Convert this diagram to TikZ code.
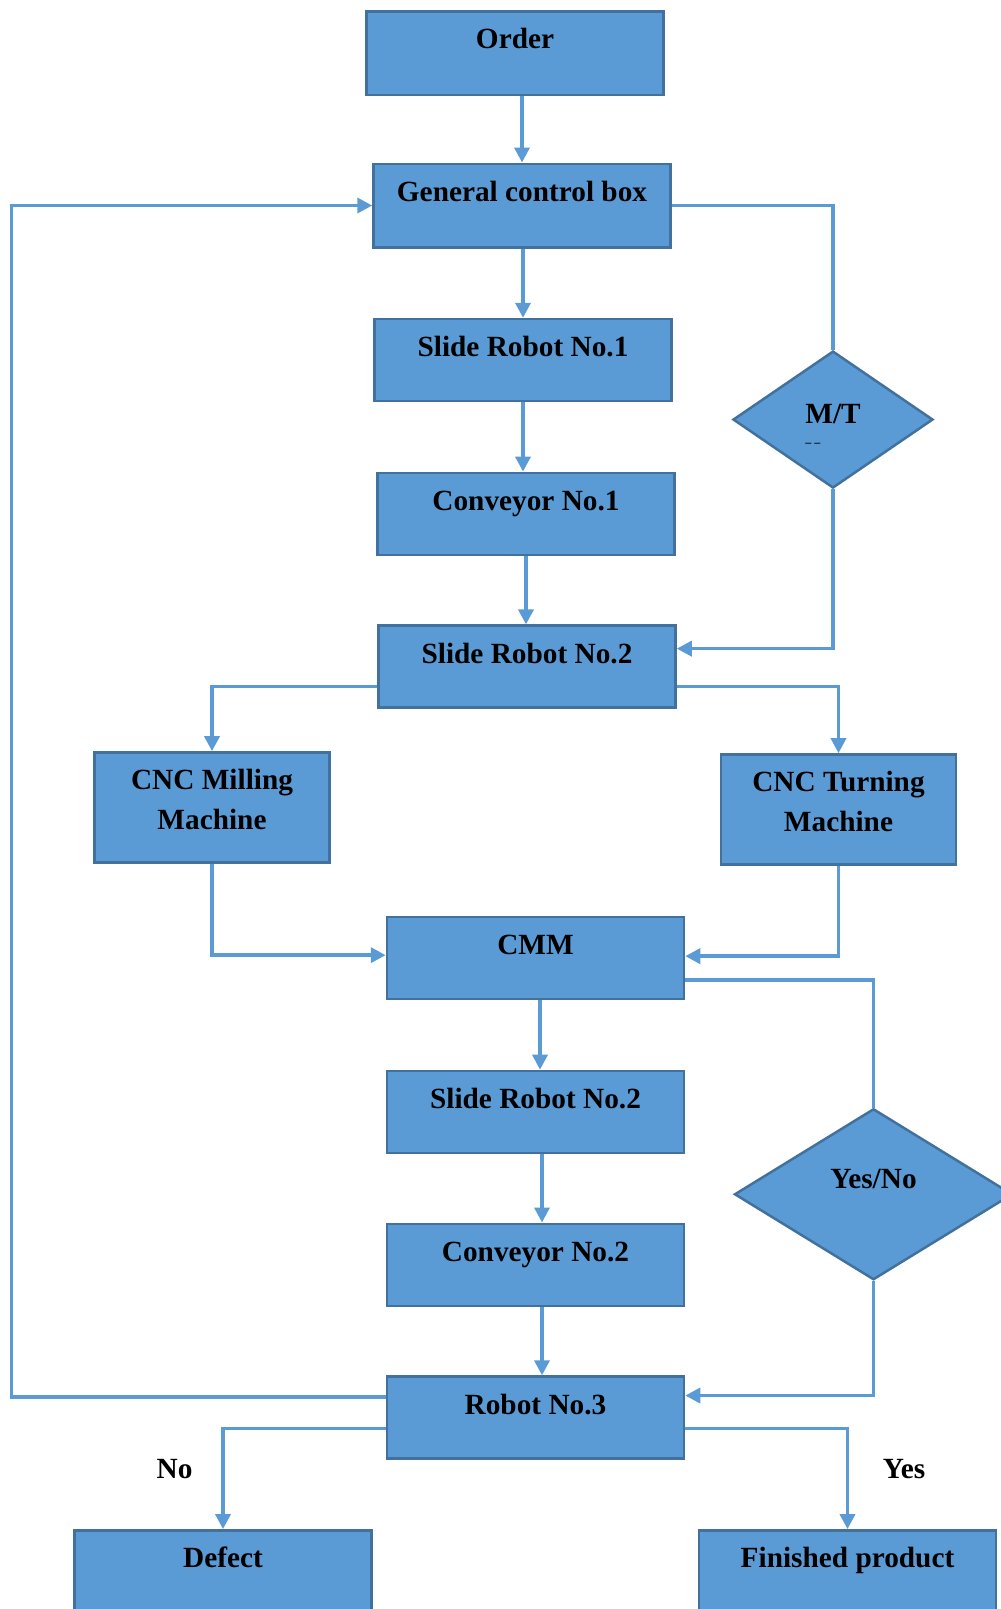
\documentclass[tikz,border=0pt]{standalone}
\usepackage{fontspec}
\setmainfont{Liberation Serif}
\usetikzlibrary{arrows.meta,positioning,shapes.geometric}
\definecolor{boxfill}{HTML}{5B9BD5}
\definecolor{boxline}{HTML}{41719C}
\tikzset{
    block/.style={rectangle,draw=boxline,fill=boxfill,line width=2.5pt,minimum width=297pt,inner sep=0pt,text height=37.5pt,text depth=44.5pt,font=\fontsize{29.3}{40}\selectfont\bfseries},
    tall/.style={text depth=46pt},
    machine/.style={block,minimum width=235pt,text depth=72.5pt},
    decision/.style={diamond,draw=boxline,fill=boxfill,line width=2.5pt,inner sep=0pt,font=\fontsize{29.3}{40}\selectfont\bfseries},
    answer/.style={anchor=base,font=\fontsize{29.3}{40}\selectfont\bfseries},
    pre/.style={-{Triangle[length=15pt,width=15pt]},line width=3.5pt,draw=boxfill},
    bi/.style={-,line width=3.5pt,draw=boxfill}
}

\begin{document}
\begin{tikzpicture}

                \useasboundingbox (0,0) rectangle (1001pt,-1609pt);
                \clip (0,0) rectangle (1001pt,-1609pt);

                \node[block,tall] (order)        at (515pt,-53pt)                            {Order};
                \node[block,tall] (control box)  [below=66.5pt of order, xshift=7pt]         {General control box};
                \node[block]      (slide one)    [below=69.3pt of control box, xshift=1pt]   {Slide Robot No.1};
                \node[block]      (conveyor one) [below=69.3pt of slide one, xshift=3pt]     {Conveyor No.1};
                \node[block]      (slide two)    [below=68.3pt of conveyor one, xshift=1pt]  {Slide Robot No.2};

                \node[decision, minimum width=200pt, minimum height=137pt, text height=20pt, text depth=13pt]
                                  (mt check)     [right=59pt of slide one, yshift=-59.5pt]
                                  {\begin{tabular}[t]{@{}l@{}}M/T\\[-16.5pt]{\fontsize{12}{12}\selectfont --~--}\end{tabular}};

                \node[machine]    (cnc mill)     [below=42.3pt of slide two, xshift=-315pt]
                                  {\begin{tabular}[t]{@{}c@{}}CNC Milling\\Machine\end{tabular}};
                \node[machine]    (cnc turn)     [below=44.3pt of slide two, xshift=311.5pt]
                                  {\begin{tabular}[t]{@{}c@{}}CNC Turning\\Machine\end{tabular}};

                \node[block]      (cmm)          [below=207pt of slide two, xshift=8.5pt]    {CMM};
                \node[block]      (slide two b)  [below=69.3pt of cmm]                       {Slide Robot No.2};
                \node[block]      (conveyor two) [below=68.3pt of slide two b]               {Conveyor No.2};
                \node[block]      (robot three)  [below=68.3pt of conveyor two]              {Robot No.3};

                \node[decision, minimum width=278pt, minimum height=171pt, text height=12pt, text depth=24pt]
                                  (yes no)       [right=48pt of conveyor two, yshift=70.5pt] {Yes/No};

                \node[block]      (defect)       [below=69.3pt of robot three, xshift=-312.5pt] {Defect};
                \node[block]      (finished)     [below=69.3pt of robot three, xshift=312pt]    {Finished product};

                \node[answer]     (no label)     at ([xshift=-48.5pt,yshift=50.3pt]defect.north)  {No};
                \node[answer]     (yes label)    at ([xshift=56.5pt,yshift=50.3pt]finished.north) {Yes};

                \coordinate (loop corner) at (11.5pt,-1397pt);

                \draw[pre] (order.south -| control box.north) -- (control box.north);
                \draw[pre] (control box.south -| slide one.north) -- (slide one.north);
                \draw[pre] (slide one.south) -- (slide one.south |- conveyor one.north);
                \draw[pre] (conveyor one.south) -- (conveyor one.south |- slide two.north);

                \draw[bi]  (control box.east) -| (mt check.north);
                \draw[pre] (mt check.south) |- ([yshift=18pt]slide two.east);

                \draw[pre] ([yshift=-20pt]slide two.west) -| (cnc mill.north);
                \draw[pre] ([yshift=-20pt]slide two.east) -| (cnc turn.north);
                \draw[pre] (cnc mill.south) |- ([yshift=3pt]cmm.west);
                \draw[pre] (cnc turn.south) |- ([yshift=2pt]cmm.east);

                \draw[pre] ([xshift=4.5pt]cmm.south) -- ([xshift=4.5pt]slide two b.north);
                \draw[pre] ([xshift=6.5pt]slide two b.south) -- ([xshift=6.5pt]conveyor two.north);
                \draw[pre] ([xshift=6.5pt]conveyor two.south) -- ([xshift=6.5pt]robot three.north);

                \draw[bi]  ([yshift=-22pt]cmm.east) -| (yes no.north);
                \draw[pre] (yes no.south) |- ([yshift=22pt]robot three.east);

                \draw[pre] (loop corner -| robot three.west) -- (loop corner) |- (control box.west);

                \draw[pre] ([yshift=-11pt]robot three.west) -| (defect.north);
                \draw[pre] ([yshift=-11pt]robot three.east) -| (finished.north);

\end{tikzpicture}
\end{document}
